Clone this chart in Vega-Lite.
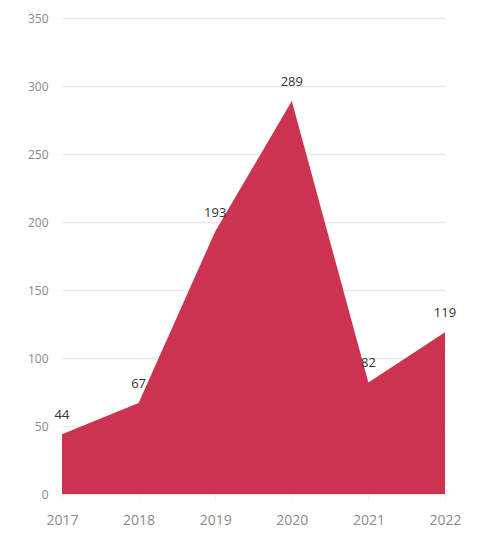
{
  "$schema": "https://vega.github.io/schema/vega-lite/v6.json",
  "width": 383,
  "height": 476,
  "autosize": "none",
  "padding": {"left": 62, "top": 18, "right": 36, "bottom": 40},
  "background": "white",
  "config": {
    "view": {"stroke": null},
    "font": "Open Sans"
  },
  "data": {
    "values": [
      {"year": "2017", "value": 44},
      {"year": "2018", "value": 67},
      {"year": "2019", "value": 193},
      {"year": "2020", "value": 289},
      {"year": "2021", "value": 82},
      {"year": "2022", "value": 119}
    ]
  },
  "encoding": {
    "x": {
      "field": "year",
      "type": "ordinal",
      "scale": {"type": "point", "padding": 0},
      "axis": {
        "title": null,
        "labelAngle": 0,
        "labelFontSize": 14,
        "labelColor": "#8a8a8a",
        "labelPadding": 14,
        "domain": false,
        "ticks": true,
        "tickColor": "#eeeeee",
        "tickSize": 5,
        "grid": false
      }
    },
    "y": {
      "field": "value",
      "type": "quantitative",
      "scale": {"domain": [0, 350], "nice": false},
      "axis": {
        "title": null,
        "values": [0, 50, 100, 150, 200, 250, 300, 350],
        "labelFontSize": 12,
        "labelColor": "#8a8a8a",
        "labelPadding": 14,
        "domain": false,
        "ticks": false,
        "gridColor": "#e8e8e8",
        "gridWidth": 1.5
      }
    }
  },
  "layer": [
    {
      "mark": {"type": "area", "color": "#cc3350", "opacity": 1}
    },
    {
      "mark": {"type": "text", "dy": -12, "baseline": "bottom", "fontSize": 13, "color": "#333333"},
      "encoding": {
        "text": {"field": "value", "type": "quantitative"}
      }
    }
  ]
}
